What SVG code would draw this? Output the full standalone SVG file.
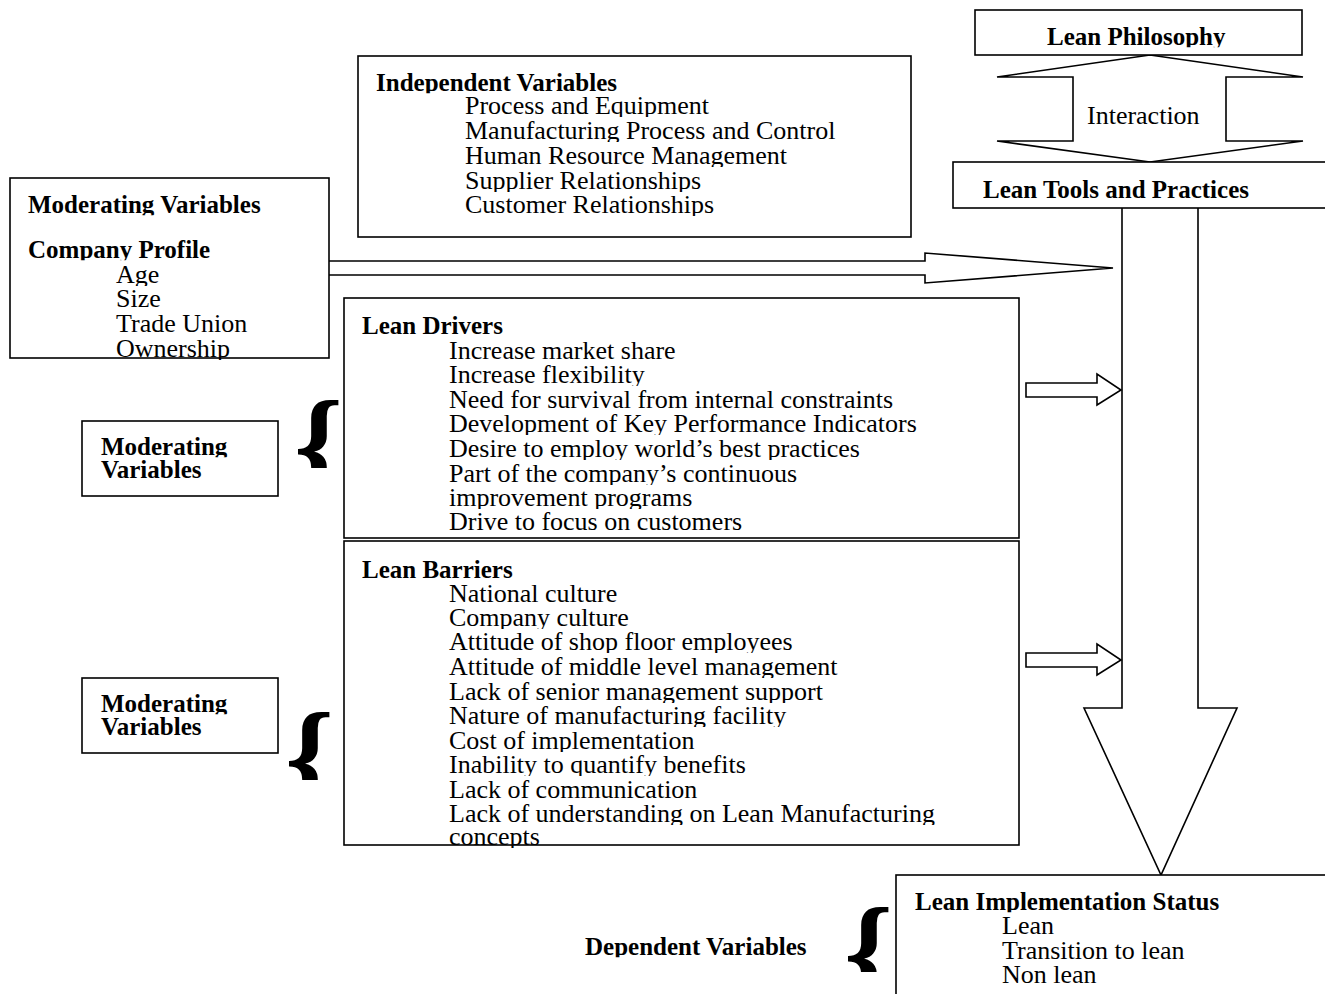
<svg xmlns="http://www.w3.org/2000/svg" width="1325" height="994" viewBox="0 0 1325 994">
<style>
.box{fill:#fff;stroke:#000;stroke-width:1.6}
.ar{fill:#fff;stroke:#000;stroke-width:1.6;stroke-linejoin:miter}
.t{font-family:"Liberation Serif","Times New Roman",serif;font-size:26px;fill:#000}
.b{font-family:"Liberation Serif","Times New Roman",serif;font-size:25px;font-weight:bold;fill:#000}
.br{font-family:"Liberation Serif","Times New Roman",serif;font-size:125px;font-weight:bold;fill:#000}
text.t,text.b{clip-path:url(#cl)}
</style>
<defs>
<clipPath id="cl" clipPathUnits="objectBoundingBox"><rect x="-0.1" y="-0.1" width="1.2" height="0.995"/></clipPath>
<clipPath id="cb1"><rect x="280" y="380" width="80" height="88"/></clipPath>
<clipPath id="cb2"><rect x="270" y="690" width="80" height="90"/></clipPath>
<clipPath id="cb3"><rect x="830" y="890" width="80" height="82"/></clipPath>
</defs>
<rect width="1325" height="994" fill="#fff"/>

<g id="connectors">
<path class="ar" d="M1150,55 L1303,77 L1226,77 L1226,141 L1303,141 L1150,162 L997,141 L1073,141 L1073,77 L997,77 Z"/>
<path class="ar" d="M1122,208 L1122,708 L1084,708 L1161,875 L1237,708 L1198,708 L1198,208"/>
<path class="ar" d="M329,261 L925,261 L925,253 L1113,268 L925,283 L925,275 L329,275"/>
<path class="ar" d="M1026,383 L1097,383 L1097,374 L1121,390 L1097,405 L1097,397 L1026,397 Z"/>
<path class="ar" d="M1026,653 L1097,653 L1097,644 L1121,660 L1097,675 L1097,667 L1026,667 Z"/>
</g>

<g id="interaction-label">
<text class="t" x="1087" y="124">Interaction</text>
</g>

<g id="lean-philosophy">
<rect class="box" x="975" y="10" width="327" height="45"/>
<text class="b" x="1047" y="45">Lean Philosophy</text>
</g>

<g id="lean-tools">
<rect class="box" x="953" y="162" width="390" height="46"/>
<text class="b" x="983" y="198">Lean Tools and Practices</text>
</g>

<g id="independent-variables">
<rect class="box" x="358" y="56" width="553" height="181"/>
<text class="b" x="376" y="91">Independent Variables</text>
<text class="t" x="465" y="114">Process and Equipment</text>
<text class="t" x="465" y="139">Manufacturing Process and Control</text>
<text class="t" x="465" y="164">Human Resource Management</text>
<text class="t" x="465" y="189">Supplier Relationships</text>
<text class="t" x="465" y="213">Customer Relationships</text>
</g>

<g id="company-profile">
<rect class="box" x="10" y="178" width="319" height="180"/>
<text class="b" x="28" y="213">Moderating Variables</text>
<text class="b" x="28" y="258">Company Profile</text>
<text class="t" x="116" y="283">Age</text>
<text class="t" x="116" y="307">Size</text>
<text class="t" x="116" y="332">Trade Union</text>
<text class="t" x="116" y="357">Ownership</text>
</g>

<g id="lean-drivers">
<rect class="box" x="344" y="298" width="675" height="240"/>
<text class="b" x="362" y="334">Lean Drivers</text>
<text class="t" x="449" y="359">Increase market share</text>
<text class="t" x="449" y="383">Increase flexibility</text>
<text class="t" x="449" y="408">Need for survival from internal constraints</text>
<text class="t" x="449" y="432">Development of Key Performance Indicators</text>
<text class="t" x="449" y="457">Desire to employ world’s best practices</text>
<text class="t" x="449" y="482">Part of the company’s continuous</text>
<text class="t" x="449" y="506">improvement programs</text>
<text class="t" x="449" y="530">Drive to focus on customers</text>
</g>

<g id="lean-barriers">
<rect class="box" x="344" y="541" width="675" height="304"/>
<text class="b" x="362" y="578">Lean Barriers</text>
<text class="t" x="449" y="602">National culture</text>
<text class="t" x="449" y="626">Company culture</text>
<text class="t" x="449" y="650">Attitude of shop floor employees</text>
<text class="t" x="449" y="675">Attitude of middle level management</text>
<text class="t" x="449" y="700">Lack of senior management support</text>
<text class="t" x="449" y="724">Nature of manufacturing facility</text>
<text class="t" x="449" y="749">Cost of implementation</text>
<text class="t" x="449" y="773">Inability to quantify benefits</text>
<text class="t" x="449" y="798">Lack of communication</text>
<text class="t" x="449" y="822">Lack of understanding on Lean Manufacturing</text>
<text class="t" x="449" y="845">concepts</text>
</g>

<g id="moderating-1">
<rect class="box" x="82" y="421" width="196" height="75"/>
<text class="b" x="101" y="455">Moderating</text>
<text class="b" x="101" y="478">Variables</text>
<text class="br" x="294" y="487" clip-path="url(#cb1)">{</text>
</g>

<g id="moderating-2">
<rect class="box" x="82" y="678" width="196" height="75"/>
<text class="b" x="101" y="712">Moderating</text>
<text class="b" x="101" y="735">Variables</text>
<text class="br" x="285" y="799" clip-path="url(#cb2)">{</text>
</g>

<g id="dependent-variables">
<text class="b" x="585" y="955">Dependent Variables</text>
<text class="br" x="844" y="994" clip-path="url(#cb3)">{</text>
</g>

<g id="lean-implementation">
<rect class="box" x="896" y="875" width="450" height="140"/>
<text class="b" x="915" y="910">Lean Implementation Status</text>
<text class="t" x="1002" y="934">Lean</text>
<text class="t" x="1002" y="959">Transition to lean</text>
<text class="t" x="1002" y="983">Non lean</text>
</g>
</svg>
